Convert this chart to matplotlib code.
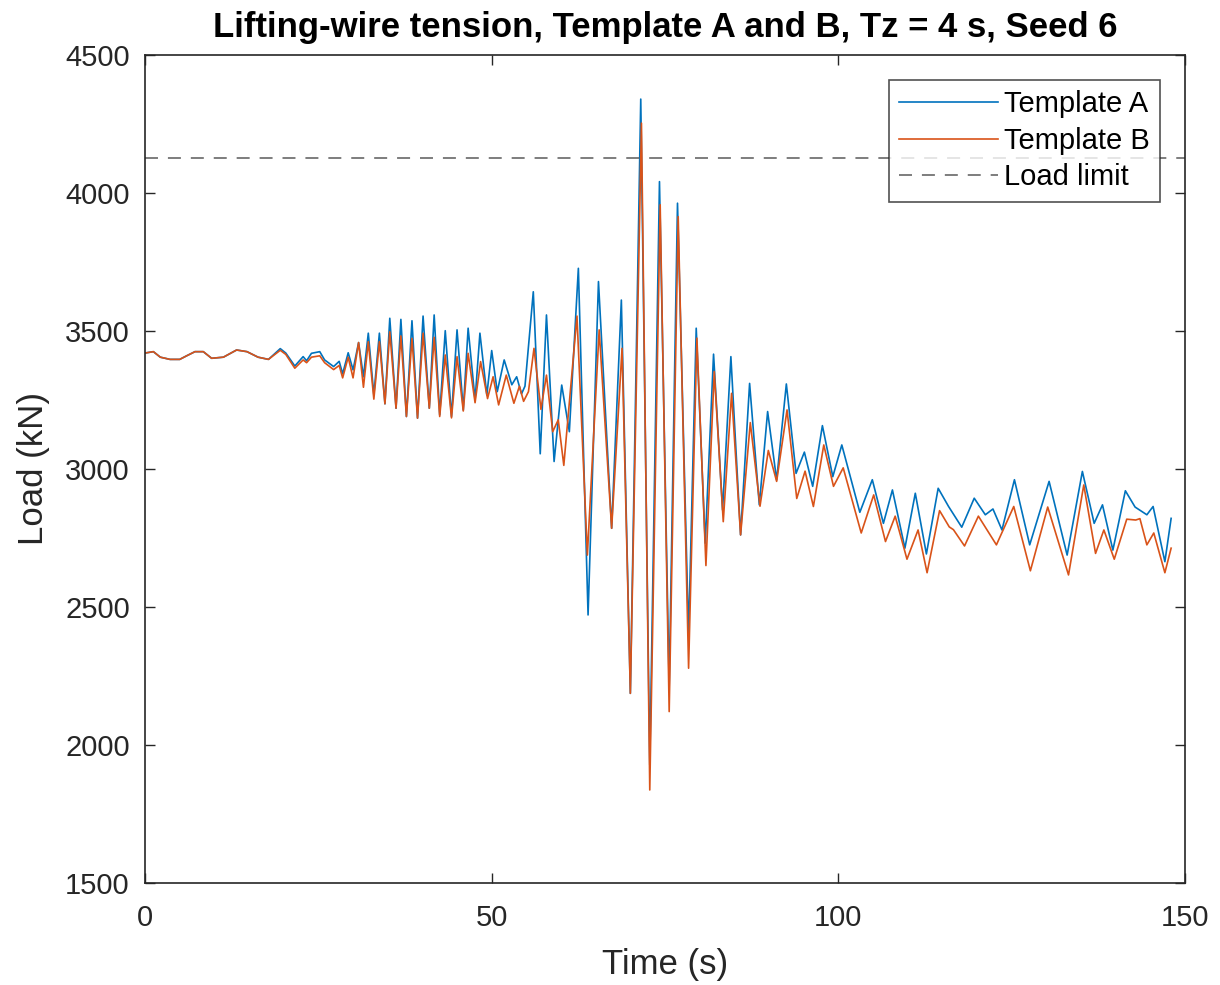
import numpy as np
import matplotlib
matplotlib.use("Agg")
import matplotlib.pyplot as plt

plt.rcParams['font.family'] = ['Liberation Sans', 'DejaVu Sans']

# peaks / troughs (time in s, load in kN)
t_a = [0, 1.2, 2.2, 3.6, 5.0, 6.0, 7.2, 8.4, 9.6, 11.3, 13.2, 14.7, 16.3, 17.8, 19.5,
       20.3, 21.6, 22.8, 23.3, 24.0, 25.2, 25.9, 27.2, 28.0, 28.5, 29.3, 30.0, 30.8,
       31.5, 32.2, 33.0, 33.8, 34.6, 35.3, 36.2, 36.9, 37.7, 38.5, 39.3, 40.1, 41.0,
       41.7, 42.5, 43.3, 44.2, 45.0, 45.9, 46.6, 47.6, 48.3, 49.3, 50.0, 50.8, 51.8,
       52.9, 53.6, 54.3, 54.8, 56.0, 57.0, 57.9, 59.0, 60.1, 61.2, 62.5, 63.9, 65.4,
       67.3, 68.7, 70.0, 71.5, 72.8, 74.2, 75.6, 76.8, 78.4, 79.5, 80.8, 82.0, 83.3,
       84.5, 85.9, 87.2, 88.6, 89.8, 91.1, 92.5, 93.9, 95.1, 96.3, 97.7, 99.2, 100.5,
       103.1, 104.9, 106.5, 107.8, 109.6, 111.1, 112.7, 114.4, 115.9, 117.8, 119.6,
       121.2, 122.3, 123.6, 125.4, 127.6, 130.4, 133.0, 135.2, 136.9, 138.1, 139.6,
       141.4, 142.8, 144.5, 145.4, 147.1, 148.0]
load_a = [3420, 3425, 3405, 3397, 3397, 3410, 3425, 3425, 3401, 3405, 3431, 3425, 3405, 3397, 3436,
          3420, 3373, 3407, 3392, 3419, 3425, 3395, 3371, 3390, 3345, 3421, 3359, 3458,
          3334, 3492, 3268, 3492, 3236, 3546, 3220, 3542, 3190, 3537, 3184, 3554, 3220,
          3558, 3196, 3501, 3190, 3504, 3214, 3510, 3250, 3492, 3268, 3429, 3280, 3395,
          3305, 3334, 3272, 3300, 3642, 3055, 3558, 3027, 3304, 3135, 3727, 2471, 3679,
          2785, 3612, 2187, 4340, 1928, 4041, 2213, 3963, 2398, 3510, 2731, 3416, 2851,
          3407, 2761, 3310, 2870, 3208, 2960, 3308, 2984, 3061, 2937, 3157, 2972, 3087,
          2843, 2961, 2803, 2924, 2713, 2912, 2692, 2930, 2864, 2789, 2894,
          2834, 2855, 2779, 2961, 2725, 2955, 2688, 2991, 2803, 2870, 2706,
          2921, 2862, 2834, 2864, 2664, 2821]

t_b = [0, 1.2, 2.2, 3.6, 5.0, 6.0, 7.2, 8.4, 9.6, 11.3, 13.2, 14.7, 16.3, 17.8, 19.5,
       20.3, 21.6, 22.8, 23.3, 24.0, 25.2, 25.9, 27.2, 28.0, 28.5, 29.3, 30.0, 30.8,
       31.5, 32.2, 33.0, 33.8, 34.6, 35.3, 36.2, 36.9, 37.7, 38.5, 39.3, 40.1, 41.0,
       41.7, 42.5, 43.3, 44.2, 45.0, 45.9, 46.6, 47.6, 48.4, 49.4, 50.2, 51.0, 52.1,
       53.2, 54.0, 54.6, 55.3, 56.1, 57.1, 57.9, 58.8, 59.6, 60.4, 62.3, 63.8, 65.5,
       67.3, 68.8, 70.0, 71.6, 72.8, 74.3, 75.6, 76.9, 78.4, 79.6, 80.9, 82.1, 83.4,
       84.6, 85.9, 87.3, 88.7, 89.9, 91.1, 92.6, 94.0, 95.2, 96.4, 97.9, 99.3, 100.7,
       103.3, 105.1, 106.8, 108.2, 109.9, 111.5, 112.8, 114.6, 116.0, 116.6, 118.2,
       120.2, 122.8, 125.3, 127.7, 130.2, 133.2, 135.4, 137.1, 138.3, 139.8, 141.6,
       142.9, 143.5, 144.5, 145.5, 147.1, 148.0]
load_b = [3420, 3425, 3405, 3397, 3397, 3410, 3425, 3425, 3401, 3405, 3431, 3425, 3405, 3397, 3430,
          3415, 3365, 3395, 3385, 3405, 3410, 3385, 3360, 3375, 3330, 3405, 3330, 3458,
          3296, 3461, 3253, 3461, 3236, 3497, 3220, 3482, 3190, 3473, 3184, 3492, 3220,
          3477, 3190, 3413, 3185, 3407, 3210, 3419, 3240, 3389, 3255, 3334, 3232, 3340,
          3238, 3300, 3245, 3280, 3437, 3216, 3340, 3135, 3178, 3013, 3554, 2688, 3504,
          2785, 3437, 2187, 4253, 1837, 3957, 2121, 3914, 2278, 3474, 2650, 3353, 2809,
          3274, 2761, 3168, 2865, 3067, 2955, 3214, 2893, 2992, 2864, 3087, 2937, 3004,
          2768, 2906, 2737, 2829, 2673, 2779, 2624, 2849, 2790, 2780, 2721,
          2829, 2725, 2864, 2631, 2862, 2616, 2942, 2694, 2779, 2673, 2818,
          2815, 2820, 2725, 2768, 2624, 2713]

load_limit = 4125

fig = plt.figure(figsize=(12.2, 9.85), dpi=100)
ax = fig.add_axes([0.1189, 0.1036, 0.8524, 0.8406])

ax.plot(t_a, load_a, color='#0072BD', lw=1.2, label='Template A')
ax.plot(t_b, load_b, color='#D95319', lw=1.2, label='Template B')
ax.axhline(load_limit, color='#5a5a5a', lw=1.1, ls=(0, (8.5, 6.5)), label='Load limit')

ax.set_xlim(0, 150)
ax.set_ylim(1500, 4500)
ax.set_xticks([0, 50, 100, 150])
ax.set_yticks(np.arange(1500, 4501, 500))
ax.tick_params(direction='in', length=7, width=1, labelsize=21, colors='#262626',
               top=True, right=True)
ax.tick_params(axis='x', pad=15)
ax.tick_params(axis='y', pad=11)
for sp in ax.spines.values():
    sp.set_color('#262626')
    sp.set_linewidth(1.2)

ax.set_xlabel('Time (s)', fontsize=25, color='#262626', labelpad=12)
ax.set_ylabel('Load (kN)', fontsize=25, color='#262626', labelpad=11)
ax.set_title('Lifting-wire tension, Template A and B, Tz = 4 s, Seed 6',
             fontsize=25, fontweight='bold', pad=13)

leg = ax.legend(loc='upper right', fontsize=21, frameon=True, fancybox=False,
                edgecolor='#262626', handlelength=3.4, handletextpad=0.2,
                labelspacing=0.3, borderpad=0.35, borderaxespad=0.85)
leg.get_frame().set_linewidth(1.2)

plt.savefig("out.png", dpi=100)
